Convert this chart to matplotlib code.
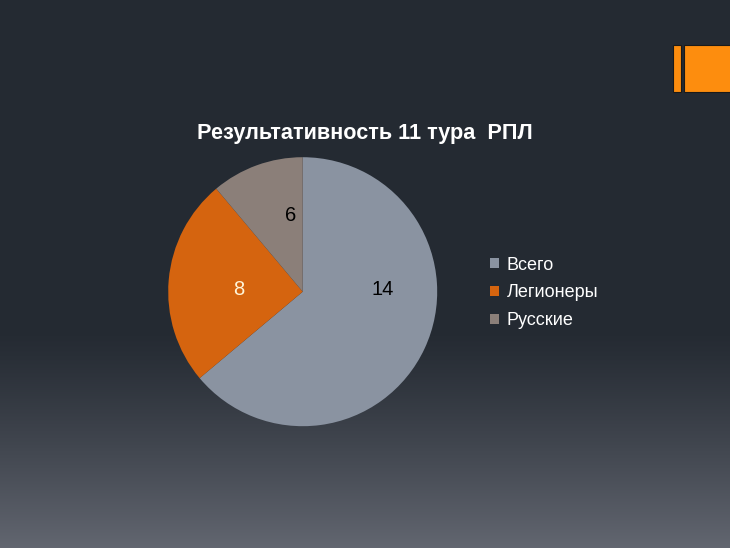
import numpy as np
import matplotlib
matplotlib.use("Agg")
import matplotlib.pyplot as plt
from matplotlib.patches import Rectangle, Patch

# ---- data ----
categories = ["Всего", "Легионеры", "Русские"]
label_values = [14, 8, 6]          # values printed on the slices
slice_shares = [23, 9, 4]          # slice sizes
title = "Результативность 11 тура  РПЛ"

colors = ["#8a93a1", "#d5640f", "#8b7f79"]
label_colors = ["#000000", "#fff4d8", "#000000"]

plt.rcParams["font.family"] = ["Liberation Sans", "DejaVu Sans"]

W, H = 730, 548
fig = plt.figure(figsize=(W / 100, H / 100), dpi=100)

# background gradient
bg = fig.add_axes([0, 0, 1, 1], zorder=-10)
yy = np.linspace(0, 1, 548)  # 0 top -> 1 bottom
top = np.array([0x24, 0x2a, 0x32]) / 255
bot = np.array([0x62, 0x66, 0x70]) / 255
t = np.clip((yy - 0.6) / 0.4, 0, 1) ** 1.2
grad = top[None, :] * (1 - t[:, None]) + bot[None, :] * t[:, None]
img = np.repeat(grad[:, None, :], 4, axis=1)
bg.imshow(img, aspect="auto", extent=[0, 1, 0, 1], origin="upper")
bg.set_axis_off()

# orange decoration top right
fig.patches.append(Rectangle((673 / W, 1 - 92 / H), 8 / W, 47 / H, transform=fig.transFigure,
                             facecolor="#fd8d0e", edgecolor="#1a1a1a", linewidth=0.8))
fig.patches.append(Rectangle((684 / W, 1 - 92 / H), 50 / W, 47 / H, transform=fig.transFigure,
                             facecolor="#fd8d0e", edgecolor="#1a1a1a", linewidth=0.8))

# title
fig.text(365 / W, 1 - 133 / H, title, ha="center", va="center", fontsize=15.6,
         fontweight="bold", color="white")

# pie
cx, cy, r = 302.7, 291.7, 134.5
ax = fig.add_axes([(cx - r) / W, (H - cy - r) / H, 2 * r / W, 2 * r / H])
wedges, _ = ax.pie(slice_shares, colors=colors, startangle=90, counterclock=False,
                   radius=1.0, wedgeprops=dict(linewidth=0))
ax.set_xlim(-1, 1)
ax.set_ylim(-1, 1)
ax.set_aspect("equal")
ax.set_axis_off()

label_xy = [(0.595, 0.018), (-0.475, 0.018), (-0.09, 0.57)]
for (lx, ly), v, c in zip(label_xy, label_values, label_colors):
    ax.text(lx, ly, str(v), ha="center", va="center", fontsize=14.5, color=c)

# legend
handles = [Patch(facecolor=c, edgecolor="none") for c in colors]
fig.legend(handles, categories, loc="upper left",
           bbox_to_anchor=(477 / W, 1 - 244 / H), frameon=False,
           fontsize=13, labelcolor="white", handlelength=0.5, handleheight=0.5,
           handletextpad=0.45, labelspacing=0.6, borderpad=0.2)

fig.savefig("out.png", dpi=100)
